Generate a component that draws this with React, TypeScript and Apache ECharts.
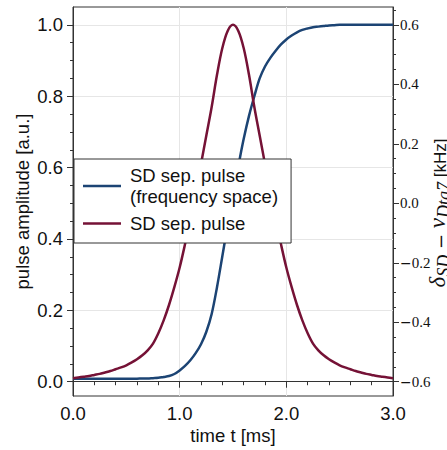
import React, { useEffect, useRef } from "react";
import * as echarts from "echarts";

// time t [ms]
const times = [
  0.0, 0.05, 0.1, 0.15, 0.2, 0.25, 0.3, 0.35, 0.4, 0.45, 0.5, 0.55, 0.6, 0.65, 0.7, 0.75, 0.8, 0.85, 0.9, 0.95,
  1.0, 1.05, 1.1, 1.15, 1.2, 1.25, 1.3, 1.35, 1.4, 1.45, 1.5, 1.55, 1.6, 1.65, 1.7, 1.75, 1.8, 1.85, 1.9, 1.95,
  2.0, 2.05, 2.1, 2.15, 2.2, 2.25, 2.3, 2.35, 2.4, 2.45, 2.5, 2.55, 2.6, 2.65, 2.7, 2.75, 2.8, 2.85, 2.9, 2.95, 3.0,
];

// pulse amplitude [a.u.] (left axis)
const pulseAmp = [
  0.010, 0.012, 0.014, 0.016, 0.019, 0.022, 0.026, 0.030, 0.035, 0.040, 0.046, 0.054, 0.063, 0.074, 0.088, 0.107,
  0.136, 0.172, 0.215, 0.265, 0.320, 0.385, 0.455, 0.530, 0.610, 0.690, 0.770, 0.860, 0.935, 0.983,
  1.000,
  0.983, 0.935, 0.860, 0.770, 0.690, 0.610, 0.530, 0.455, 0.385, 0.320, 0.265, 0.215, 0.172, 0.136, 0.107, 0.088,
  0.074, 0.063, 0.054, 0.046, 0.040, 0.035, 0.030, 0.026, 0.022, 0.019, 0.016, 0.014, 0.012, 0.010,
];

// detuning delta_SD - nu [kHz] (right axis)
const detuning = [
  -0.590, -0.590, -0.590, -0.590, -0.590, -0.590, -0.590, -0.590, -0.590, -0.590, -0.590, -0.590, -0.590,
  -0.589, -0.589, -0.588, -0.587, -0.584, -0.581, -0.574,
  -0.562, -0.547, -0.528, -0.504, -0.474, -0.432, -0.372, -0.282, -0.178, -0.072,
  0.036, 0.126, 0.216, 0.294, 0.360, 0.420, 0.460, 0.489, 0.513, 0.534,
  0.551, 0.564, 0.575, 0.583, 0.588, 0.592, 0.594, 0.596, 0.598, 0.599,
  0.600, 0.600, 0.600, 0.600, 0.600, 0.600, 0.600, 0.600, 0.600, 0.600, 0.600,
];

const leftTicks = [0, 0.2, 0.4, 0.6, 0.8, 1.0];
const leftMinorTicks = [
  0.05, 0.1, 0.15, 0.25, 0.3, 0.35, 0.45, 0.5, 0.55, 0.65, 0.7, 0.75, 0.85, 0.9, 0.95,
];
const rightTicks = [-0.6, -0.4, -0.2, 0, 0.2, 0.4, 0.6];
const rightMinorTicks = [
  -0.65, -0.55, -0.5, -0.45, -0.35, -0.3, -0.25, -0.15, -0.1, -0.05, 0.05, 0.1, 0.15, 0.25, 0.3, 0.35, 0.45,
  0.5, 0.55, 0.65,
];

const seriesNames = ["SD sep. pulse\n(frequency space)", "SD sep. pulse"];

const SANS = "Liberation Sans";
const SERIF = "Liberation Serif";
const AX = "#333";
const GRID = "#e6e6e6";
const INK = "#111";

export default function App() {
  const ref = useRef<HTMLDivElement>(null);

  useEffect(() => {
    if (!ref.current) return;
    const chart = echarts.init(ref.current, null, { renderer: "svg" });
    const leftMin = -0.04;
    const leftMax = 1.05;
    const rightMin = -0.648;
    const rightMax = 0.66;

    chart.setOption({
      animation: false,
      backgroundColor: "#fff",
      textStyle: { fontFamily: SANS },
      grid: {
        left: 73,
        right: 54,
        top: 7,
        bottom: 54,
        show: true,
        borderColor: AX,
        borderWidth: 1,
        containLabel: false,
        outerBoundsMode: "none",
      },
      legend: {
        left: 74,
        top: 159,
        orient: "vertical",
        backgroundColor: "#fff",
        borderColor: AX,
        borderWidth: 1,
        borderRadius: 0,
        padding: [6, 13, 9, 9],
        icon: "rect",
        itemWidth: 38,
        itemHeight: 2.5,
        itemGap: 6,
        data: seriesNames,
        textStyle: {
          fontFamily: SANS,
          fontSize: 18.5,
          lineHeight: 21,
          color: INK,
          padding: [0, 0, 0, 4],
        },
      },
      graphic: [
        {
          type: "text",
          x: 426,
          y: 213,
          rotation: Math.PI / 2,
          silent: true,
          style: {
            text: "{g|\u03b4}{s|SD}{op| \u2212 }{g|\u03bd}{s|Dtg7}{k| [kHz]}",
            align: "center",
            verticalAlign: "top",
            fill: INK,
            rich: {
              g: { fontFamily: SERIF, fontStyle: "italic", fontSize: 23, fill: INK, verticalAlign: "bottom", padding: [0, 0, 4, 0] },
              s: { fontFamily: SERIF, fontStyle: "italic", fontSize: 18, fill: INK, verticalAlign: "bottom" },
              op: { fontFamily: "DejaVu Serif", fontSize: 18, fill: INK, verticalAlign: "bottom", padding: [0, 0, 4, 0] },
              k: { fontFamily: SANS, fontSize: 17, fill: INK, verticalAlign: "bottom", padding: [0, 0, 4, 0] },
            },
          },
        },
      ],
      xAxis: {
        type: "value",
        min: 0,
        max: 3,
        interval: 1,
        axisLine: { show: true, lineStyle: { color: AX } },
        axisTick: { show: true, length: 6, lineStyle: { color: AX } },
        minorTick: { show: true, splitNumber: 5, length: 3.5, lineStyle: { color: AX } },
        splitLine: { show: true, lineStyle: { color: GRID } },
        minorSplitLine: { show: false },
        axisLabel: {
          formatter: (v: number) => v.toFixed(1),
          fontSize: 18.5,
          fontFamily: SANS,
          color: INK,
          margin: 8,
        },
        name: "time t [ms]",
        nameLocation: "middle",
        nameGap: 30,
        nameMoveOverlap: false,
        nameTextStyle: { fontSize: 18.5, fontFamily: SANS, color: INK },
      },
      yAxis: [
        {
          type: "value",
          position: "left",
          min: leftMin,
          max: leftMax,
          axisLine: { show: true, lineStyle: { color: AX } },
          axisTick: { show: true, length: 6, customValues: leftTicks, lineStyle: { color: AX } },
          splitLine: { show: true, lineStyle: { color: GRID } },
          axisLabel: {
            customValues: leftTicks,
            formatter: (v: number) => v.toFixed(1),
            fontSize: 18.5,
            fontFamily: SANS,
            color: INK,
            margin: 10,
          },
          name: "pulse amplitude [a.u.]",
          nameLocation: "middle",
          nameGap: 41,
          nameMoveOverlap: false,
          nameTextStyle: { fontSize: 18.5, fontFamily: SANS, color: INK },
        },
        {
          type: "value",
          position: "right",
          min: rightMin,
          max: rightMax,
          axisLine: { show: true, lineStyle: { color: AX } },
          axisTick: { show: true, length: 6, customValues: rightTicks, lineStyle: { color: AX } },
          splitLine: { show: false },
          axisLabel: {
            customValues: rightTicks,
            formatter: (v: number) =>
              v < 0 ? "{m|\u2212}{n|" + Math.abs(v).toFixed(1) + "}" : "{n|" + v.toFixed(1) + "}",
            color: INK,
            align: "left",
            margin: 7,
            rich: {
              m: { fontFamily: "DejaVu Serif", fontSize: 14, color: INK },
              n: { fontFamily: SERIF, fontSize: 15, color: INK },
            },
          },
        },
        {
          type: "value",
          position: "left",
          min: leftMin,
          max: leftMax,
          axisLine: { show: false },
          axisTick: { show: true, length: 3, customValues: leftMinorTicks, lineStyle: { color: AX } },
          splitLine: { show: false },
          axisLabel: { show: false },
        },
        {
          type: "value",
          position: "right",
          min: rightMin,
          max: rightMax,
          axisLine: { show: false },
          axisTick: { show: true, length: 3, customValues: rightMinorTicks, lineStyle: { color: AX } },
          splitLine: { show: false },
          axisLabel: { show: false },
        },
      ],
      series: [
        {
          name: seriesNames[0],
          type: "line",
          yAxisIndex: 1,
          symbol: "none",
          smooth: 0.35,
          lineStyle: { color: "#1c4474", width: 2.5 },
          itemStyle: { color: "#1c4474" },
          data: times.map((t, i) => [t, detuning[i]]),
          z: 3,
        },
        {
          name: seriesNames[1],
          type: "line",
          yAxisIndex: 0,
          symbol: "none",
          smooth: 0.35,
          lineStyle: { color: "#751236", width: 2.5 },
          itemStyle: { color: "#751236" },
          data: times.map((t, i) => [t, pulseAmp[i]]),
          z: 3,
        },
      ],
    });

    return () => {
      chart.dispose();
    };
  }, []);

  return (
    <div
      ref={ref}
      style={{ position: "absolute", left: 0, top: 0, width: 447, height: 450 }}
    />
  );
}
